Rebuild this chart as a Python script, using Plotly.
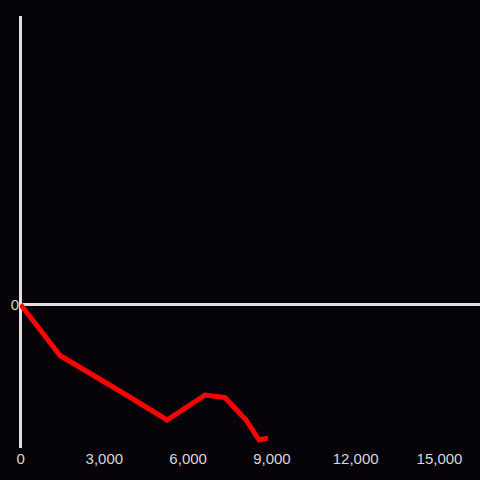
import plotly.graph_objects as go

x_values = [0, 1414, 3849, 5245, 6606, 7322, 8074, 8539, 8861]
y_values = [0, -510, -915, -1155, -905, -930, -1155, -1355, -1335]
x_tick_values = [0, 3000, 6000, 9000, 12000, 15000]
x_tick_labels = ["0", "3,000", "6,000", "9,000", "12,000", "15,000"]
y_tick_values = [0]
y_tick_labels = ["0"]

fig = go.Figure()
fig.add_trace(go.Scatter(
    x=x_values, y=y_values, mode="lines",
    line=dict(color="#ff0000", width=5),
    showlegend=False,
))

fig.update_layout(
    width=480, height=480,
    margin=dict(l=20, r=0, t=16, b=32),
    paper_bgcolor="#050307",
    plot_bgcolor="#050307",
    font=dict(family="Liberation Sans, Arial, sans-serif", size=15, color="#d8d8d8"),
    xaxis=dict(
        range=[-20, 16450],
        tickvals=x_tick_values, ticktext=x_tick_labels,
        showgrid=False, zeroline=True, zerolinecolor="#e0e0e0", zerolinewidth=3,
        showline=False, ticks="",
    ),
    yaxis=dict(
        range=[-1435, 2885],
        tickvals=y_tick_values, ticktext=y_tick_labels,
        showgrid=False, zeroline=True, zerolinecolor="#e0e0e0", zerolinewidth=3,
        showline=False, ticks="",
    ),
)

fig.write_html(
    "out.html",
    config={"displayModeBar": False},
    post_script="document.body.style.margin='0';document.body.style.background='#050307';",
)
